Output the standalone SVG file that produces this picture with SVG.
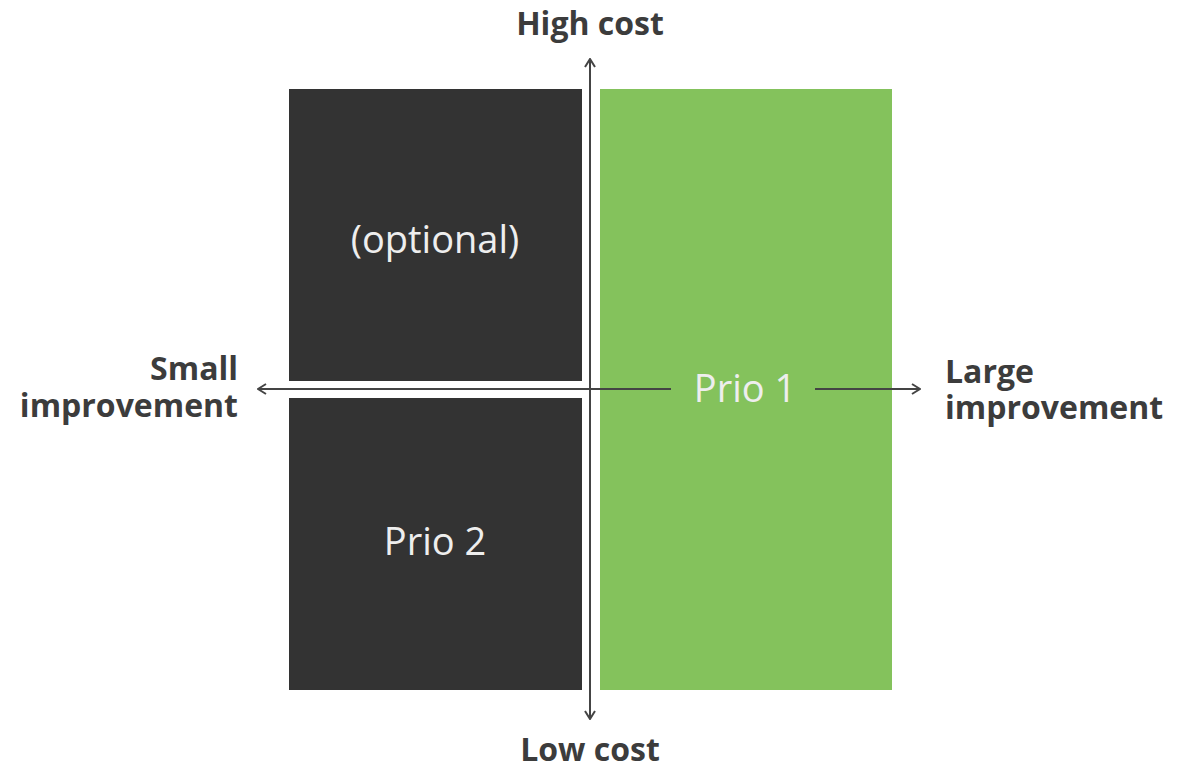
<svg xmlns="http://www.w3.org/2000/svg" width="1188" height="768" viewBox="0 0 1188 768">
<style>
.dark{fill:#333333}
.green{fill:#84c25c}
.axis{stroke:#444444;stroke-width:2;fill:none}
.lbl{font-family:"Open Sans",sans-serif;font-weight:bold;font-size:32px;fill:#3c3c3c}
.in{font-family:"Open Sans",sans-serif;font-size:38px;fill:#eeeeee;text-anchor:middle}
</style>
<defs>
<marker id="arr" viewBox="0 0 12 12" refX="11" refY="6" markerWidth="12" markerHeight="12" markerUnits="userSpaceOnUse" orient="auto">
<path d="M3,1 L11,6 L3,11" fill="none" stroke="#444444" stroke-width="2"/>
</marker>
</defs>
<rect width="1188" height="768" fill="#ffffff"/>
<g id="optional"><rect class="dark" x="289" y="89" width="293" height="292"/><text class="in" x="435" y="253">(optional)</text></g>
<g id="prio2"><rect class="dark" x="289" y="398" width="293" height="292"/><text class="in" x="435" y="555">Prio 2</text></g>
<g id="prio1"><rect class="green" x="600" y="89" width="292" height="601"/><text class="in" x="745" y="402">Prio 1</text></g>
<g id="connectors">
<line class="axis" x1="590" y1="389" x2="590" y2="59" marker-end="url(#arr)"/>
<line class="axis" x1="590" y1="389" x2="590" y2="719" marker-end="url(#arr)"/>
<line class="axis" x1="590" y1="389" x2="258" y2="389" marker-end="url(#arr)"/>
<line class="axis" x1="590" y1="389" x2="671" y2="389"/>
<line class="axis" x1="815" y1="389" x2="920" y2="389" marker-end="url(#arr)"/>
</g>
<g id="labels">
<text class="lbl" x="590" y="35" text-anchor="middle">High cost</text>
<text class="lbl" x="590" y="761" text-anchor="middle">Low cost</text>
<text class="lbl" text-anchor="end"><tspan x="238" y="380">Small</tspan><tspan x="238" y="417">improvement</tspan></text>
<text class="lbl"><tspan x="945" y="383">Large</tspan><tspan x="945" y="419">improvement</tspan></text>
</g>
</svg>
